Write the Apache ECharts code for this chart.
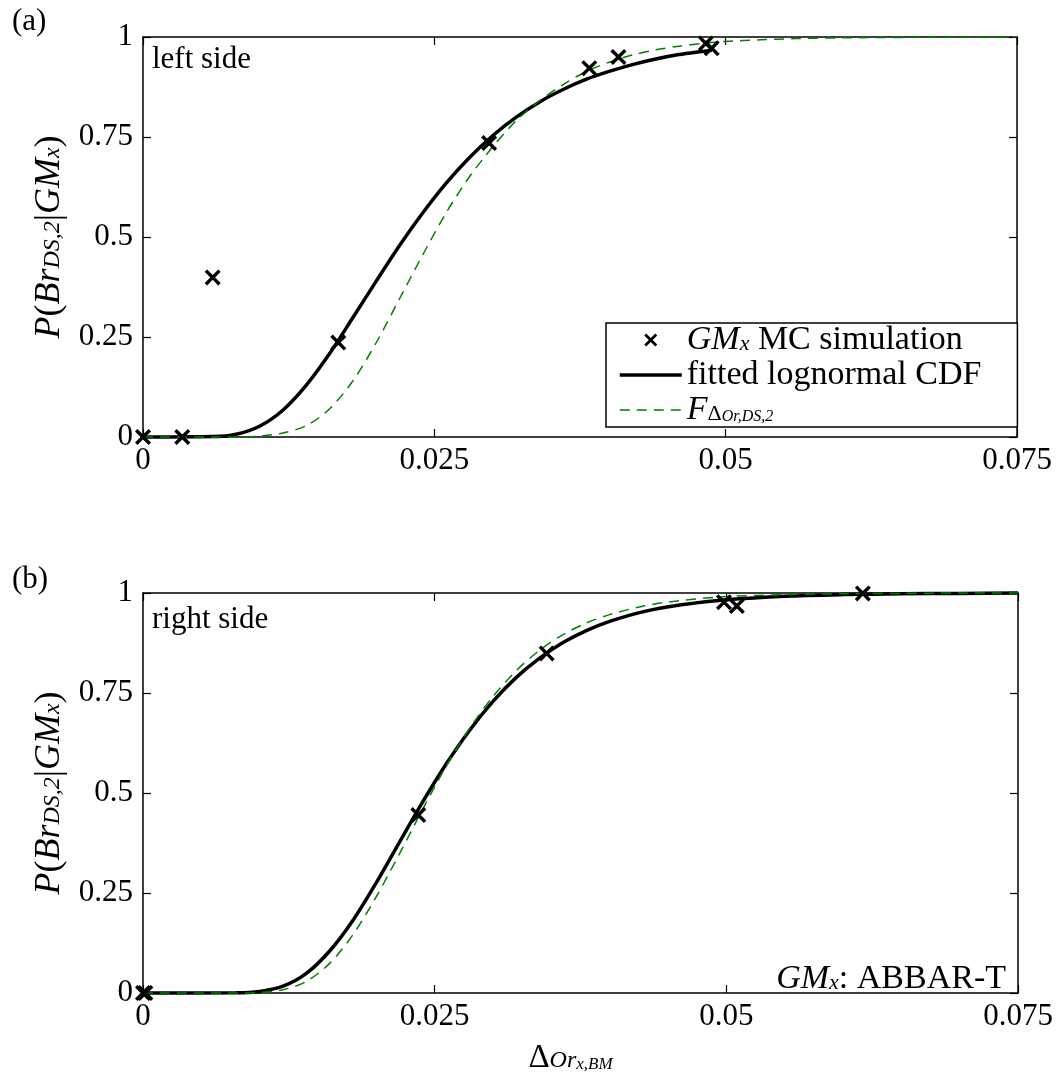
<!DOCTYPE html>
<html>
<head>
<meta charset="utf-8">
<script src="https://cdn.jsdelivr.net/npm/echarts@6/dist/echarts.min.js"></script>
<style>
  html, body { margin: 0; padding: 0; background: #fff; }
  #chart { width: 1062px; height: 1076px; }
</style>
</head>
<body>
<div id="chart"></div>
<script>
// Tick values shared by both panels
const xTicks = [0, 0.025, 0.05, 0.075];
const yTicks = [0, 0.25, 0.5, 0.75, 1];

// (a) left side: Monte Carlo points
const leftSimX = [0, 0.00337, 0.00598, 0.01676, 0.0297, 0.0383, 0.0408, 0.0483, 0.0488];
const leftSimP = [0, 0, 0.399, 0.236, 0.735, 0.922, 0.95, 0.984, 0.972];

// (a) fitted lognormal CDF
const leftFitX = [0, 0.006, 0.008, 0.010, 0.012, 0.014, 0.016, 0.018, 0.020, 0.022, 0.024, 0.026,
                  0.028, 0.030, 0.032, 0.034, 0.036, 0.038, 0.040, 0.042, 0.044, 0.046, 0.048, 0.0488];
const leftFitP = [0, 0.001, 0.007, 0.027, 0.067, 0.129, 0.208, 0.298, 0.389, 0.478, 0.56, 0.634,
                  0.698, 0.753, 0.799, 0.837, 0.868, 0.894, 0.914, 0.931, 0.945, 0.956, 0.964, 0.967];

// (a) reference fragility F
const leftRefX = [0, 0.008, 0.010, 0.012, 0.014, 0.016, 0.018, 0.020, 0.022, 0.024, 0.026, 0.028, 0.030,
                  0.032, 0.034, 0.036, 0.038, 0.040, 0.042, 0.044, 0.046, 0.048, 0.050, 0.053, 0.056,
                  0.060, 0.065, 0.070, 0.075];
const leftRefP = [0, 0, 0.002, 0.01, 0.028, 0.07, 0.14, 0.235, 0.345, 0.455, 0.56, 0.65, 0.725,
                  0.79, 0.84, 0.88, 0.913, 0.937, 0.955, 0.968, 0.977, 0.984, 0.989, 0.993, 0.996,
                  0.998, 0.999, 1, 1];

// (b) right side: Monte Carlo points
const rightSimX = [0, 0.0002, 0.0236, 0.0346, 0.0498, 0.0509, 0.0617];
const rightSimP = [0, 0, 0.445, 0.849, 0.977, 0.9675, 0.999];

// (b) curves share one abscissa list
const rightCurveX = [0, 0.008, 0.010, 0.012, 0.014, 0.016, 0.018, 0.020, 0.022, 0.024, 0.026, 0.028,
                     0.030, 0.032, 0.034, 0.036, 0.038, 0.040, 0.043, 0.046, 0.050, 0.055, 0.060,
                     0.065, 0.070, 0.075];
const rightFitP = [0, 0.0005, 0.004, 0.017, 0.049, 0.105, 0.182, 0.276, 0.378, 0.479, 0.573, 0.657,
                   0.729, 0.789, 0.837, 0.876, 0.906, 0.929, 0.954, 0.970, 0.983, 0.992, 0.996,
                   0.998, 0.999, 1];
const rightRefP = [0, 0.0001, 0.0013, 0.008, 0.029, 0.074, 0.146, 0.241, 0.349, 0.461, 0.568, 0.662,
                   0.741, 0.806, 0.857, 0.896, 0.925, 0.946, 0.968, 0.981, 0.991, 0.996, 0.998,
                   0.999, 1, 1];

const FONT = '"Liberation Serif", "Times New Roman", serif';
const GREEN = '#008000';
const CROSS = 'path://M0,3 L3,0 L10,7 L17,0 L20,3 L13,10 L20,17 L17,20 L10,13 L3,20 L0,17 L7,10 Z';
const FIT_LINE = { color: '#000', width: 3.5, type: 'solid' };
const REF_LINE = { color: GREEN, width: 1.5, type: [10, 7] };

const pairs = (xs, ys) => xs.map((x, i) => [x, ys[i]]);
const fmt = v => String(+(+v).toFixed(4));

// rich styles for math-like labels (main text, subscript, upright subscript, second-level subscript)
function mathRich(size, sub, subsub) {
  return {
    i: { fontFamily: FONT, fontStyle: 'italic', fontSize: size, lineHeight: 30, verticalAlign: 'middle', color: '#000' },
    r: { fontFamily: FONT, fontSize: size, lineHeight: 30, verticalAlign: 'middle', color: '#000' },
    s: { fontFamily: FONT, fontStyle: 'italic', fontSize: sub, lineHeight: 12, verticalAlign: 'bottom', color: '#000' },
    d: { fontFamily: FONT, fontSize: sub, lineHeight: 16, verticalAlign: 'bottom', color: '#000' },
    ss: { fontFamily: FONT, fontStyle: 'italic', fontSize: subsub, lineHeight: 4, verticalAlign: 'bottom', color: '#000' }
  };
}

const yName = '{i|P}{r|(}{i|Br}{s|DS,2}{r||}{i|GM}{s|x}{r|)}';

function xAxes(grid, withName) {
  const base = {
    type: 'value', gridIndex: grid,
    min: xTicks[0], max: xTicks[xTicks.length - 1], interval: xTicks[1] - xTicks[0],
    axisLine: { show: true, onZero: false, lineStyle: { color: '#000', width: 1.5 } },
    axisTick: { show: true, inside: true, length: 8, lineStyle: { color: '#000', width: 1.2 } },
    splitLine: { show: false }
  };
  const bottom = Object.assign({}, base, {
    position: 'bottom',
    axisLabel: { show: true, showMinLabel: true, showMaxLabel: true, formatter: fmt,
                 fontFamily: FONT, fontSize: 31, color: '#000', margin: 8 }
  });
  if (withName) {
    Object.assign(bottom, {
      name: '{r|Δ}{s|Or}{ss|x,BM}', nameLocation: 'middle', nameGap: 50,
      nameTextStyle: { rich: mathRich(33, 24, 17), padding: [0, 20, 0, 0] }
    });
  }
  const top = Object.assign({}, base, { position: 'top', axisLabel: { show: false } });
  return [bottom, top];
}

function yAxes(grid) {
  const base = {
    type: 'value', gridIndex: grid,
    min: yTicks[0], max: yTicks[yTicks.length - 1], interval: yTicks[1] - yTicks[0],
    axisLine: { show: true, onZero: false, lineStyle: { color: '#000', width: 1.5 } },
    axisTick: { show: true, inside: true, length: 8, lineStyle: { color: '#000', width: 1.2 } },
    splitLine: { show: false }
  };
  const left = Object.assign({}, base, {
    position: 'left',
    axisLabel: { show: true, showMinLabel: true, showMaxLabel: true, formatter: fmt,
                 fontFamily: FONT, fontSize: 31, color: '#000', margin: 10 },
    name: yName, nameLocation: 'middle', nameRotate: 90, nameGap: 74,
    nameTextStyle: { rich: mathRich(36, 24, 17) }
  });
  const right = Object.assign({}, base, { position: 'right', axisLabel: { show: false } });
  return [left, right];
}

function panelSeries(xi, yi, simX, simP, fitX, fitP, refX, refP) {
  return [
    {
      name: 'fit', type: 'line', xAxisIndex: xi, yAxisIndex: yi,
      data: pairs(fitX, fitP), smooth: 0.3,
      symbol: 'none', showSymbol: false, clip: false,
      lineStyle: FIT_LINE, itemStyle: { color: '#000' }, z: 2
    },
    {
      name: 'ref', type: 'line', xAxisIndex: xi, yAxisIndex: yi,
      data: pairs(refX, refP), smooth: 0.3,
      symbol: 'none', showSymbol: false, clip: false,
      lineStyle: REF_LINE, itemStyle: { color: GREEN }, z: 3
    },
    {
      name: 'sim', type: 'scatter', xAxisIndex: xi, yAxisIndex: yi,
      data: pairs(simX, simP), symbol: CROSS, symbolSize: 16, clip: false,
      itemStyle: { color: '#000', opacity: 1 }, z: 4
    }
  ];
}

const legendText = {
  sim: '{i|GM}{s|x} {r|MC simulation}',
  fit: '{r|fitted lognormal CDF}',
  ref: '{i|F}{d|Δ}{ss|Or,DS,2}'
};

const plainText = (txt, pos) => ({
  type: 'text', ...pos,
  style: { text: txt, font: '31px ' + FONT, fill: '#000' }
});

const hiddenMark = { color: 'rgba(0,0,0,0)', borderWidth: 0, opacity: 0 };

const option = {
  backgroundColor: '#fff',
  animation: false,
  grid: [
    { left: 143, right: 45, top: 37, height: 400, containLabel: false, outerBoundsMode: 'none' },
    { left: 143, right: 44, top: 593, height: 400, containLabel: false, outerBoundsMode: 'none' }
  ],
  xAxis: [...xAxes(0, false), ...xAxes(1, true)],
  yAxis: [...yAxes(0), ...yAxes(1)],
  legend: {
    data: [
      { name: 'sim', icon: CROSS, itemStyle: { color: '#000', opacity: 1 } },
      { name: 'fit', itemStyle: hiddenMark, lineStyle: FIT_LINE },
      { name: 'ref', itemStyle: hiddenMark, lineStyle: REF_LINE }
    ],
    orient: 'vertical', left: 606, top: 323,
    itemWidth: 62, itemHeight: 13, itemGap: 1,
    padding: [0, 36, 0, 12],
    borderColor: '#000', borderWidth: 1.5, borderRadius: 0, backgroundColor: '#fff',
    selectedMode: false, symbolKeepAspect: true,
    textStyle: { fontFamily: FONT, fontSize: 34, color: '#000', lineHeight: 30, rich: mathRich(34, 22, 16) },
    formatter: n => legendText[n]
  },
  graphic: [
    plainText('(a)', { left: 12, top: 6 }),
    plainText('(b)', { left: 12, top: 564 }),
    plainText('left side', { left: 152, top: 44 }),
    plainText('right side', { left: 152, top: 604 }),
    {
      type: 'text', right: 56, bottom: 80,
      style: { text: '{i|GM}{s|x}{r|: ABBAR-T}', rich: mathRich(34, 22, 16), fill: '#000' }
    }
  ],
  series: [
    ...panelSeries(0, 0, leftSimX, leftSimP, leftFitX, leftFitP, leftRefX, leftRefP),
    ...panelSeries(2, 2, rightSimX, rightSimP, rightCurveX, rightFitP, rightCurveX, rightRefP)
  ]
};

const chart = echarts.init(document.getElementById('chart'), null, { renderer: 'canvas' });
chart.setOption(option);
</script>
</body>
</html>
